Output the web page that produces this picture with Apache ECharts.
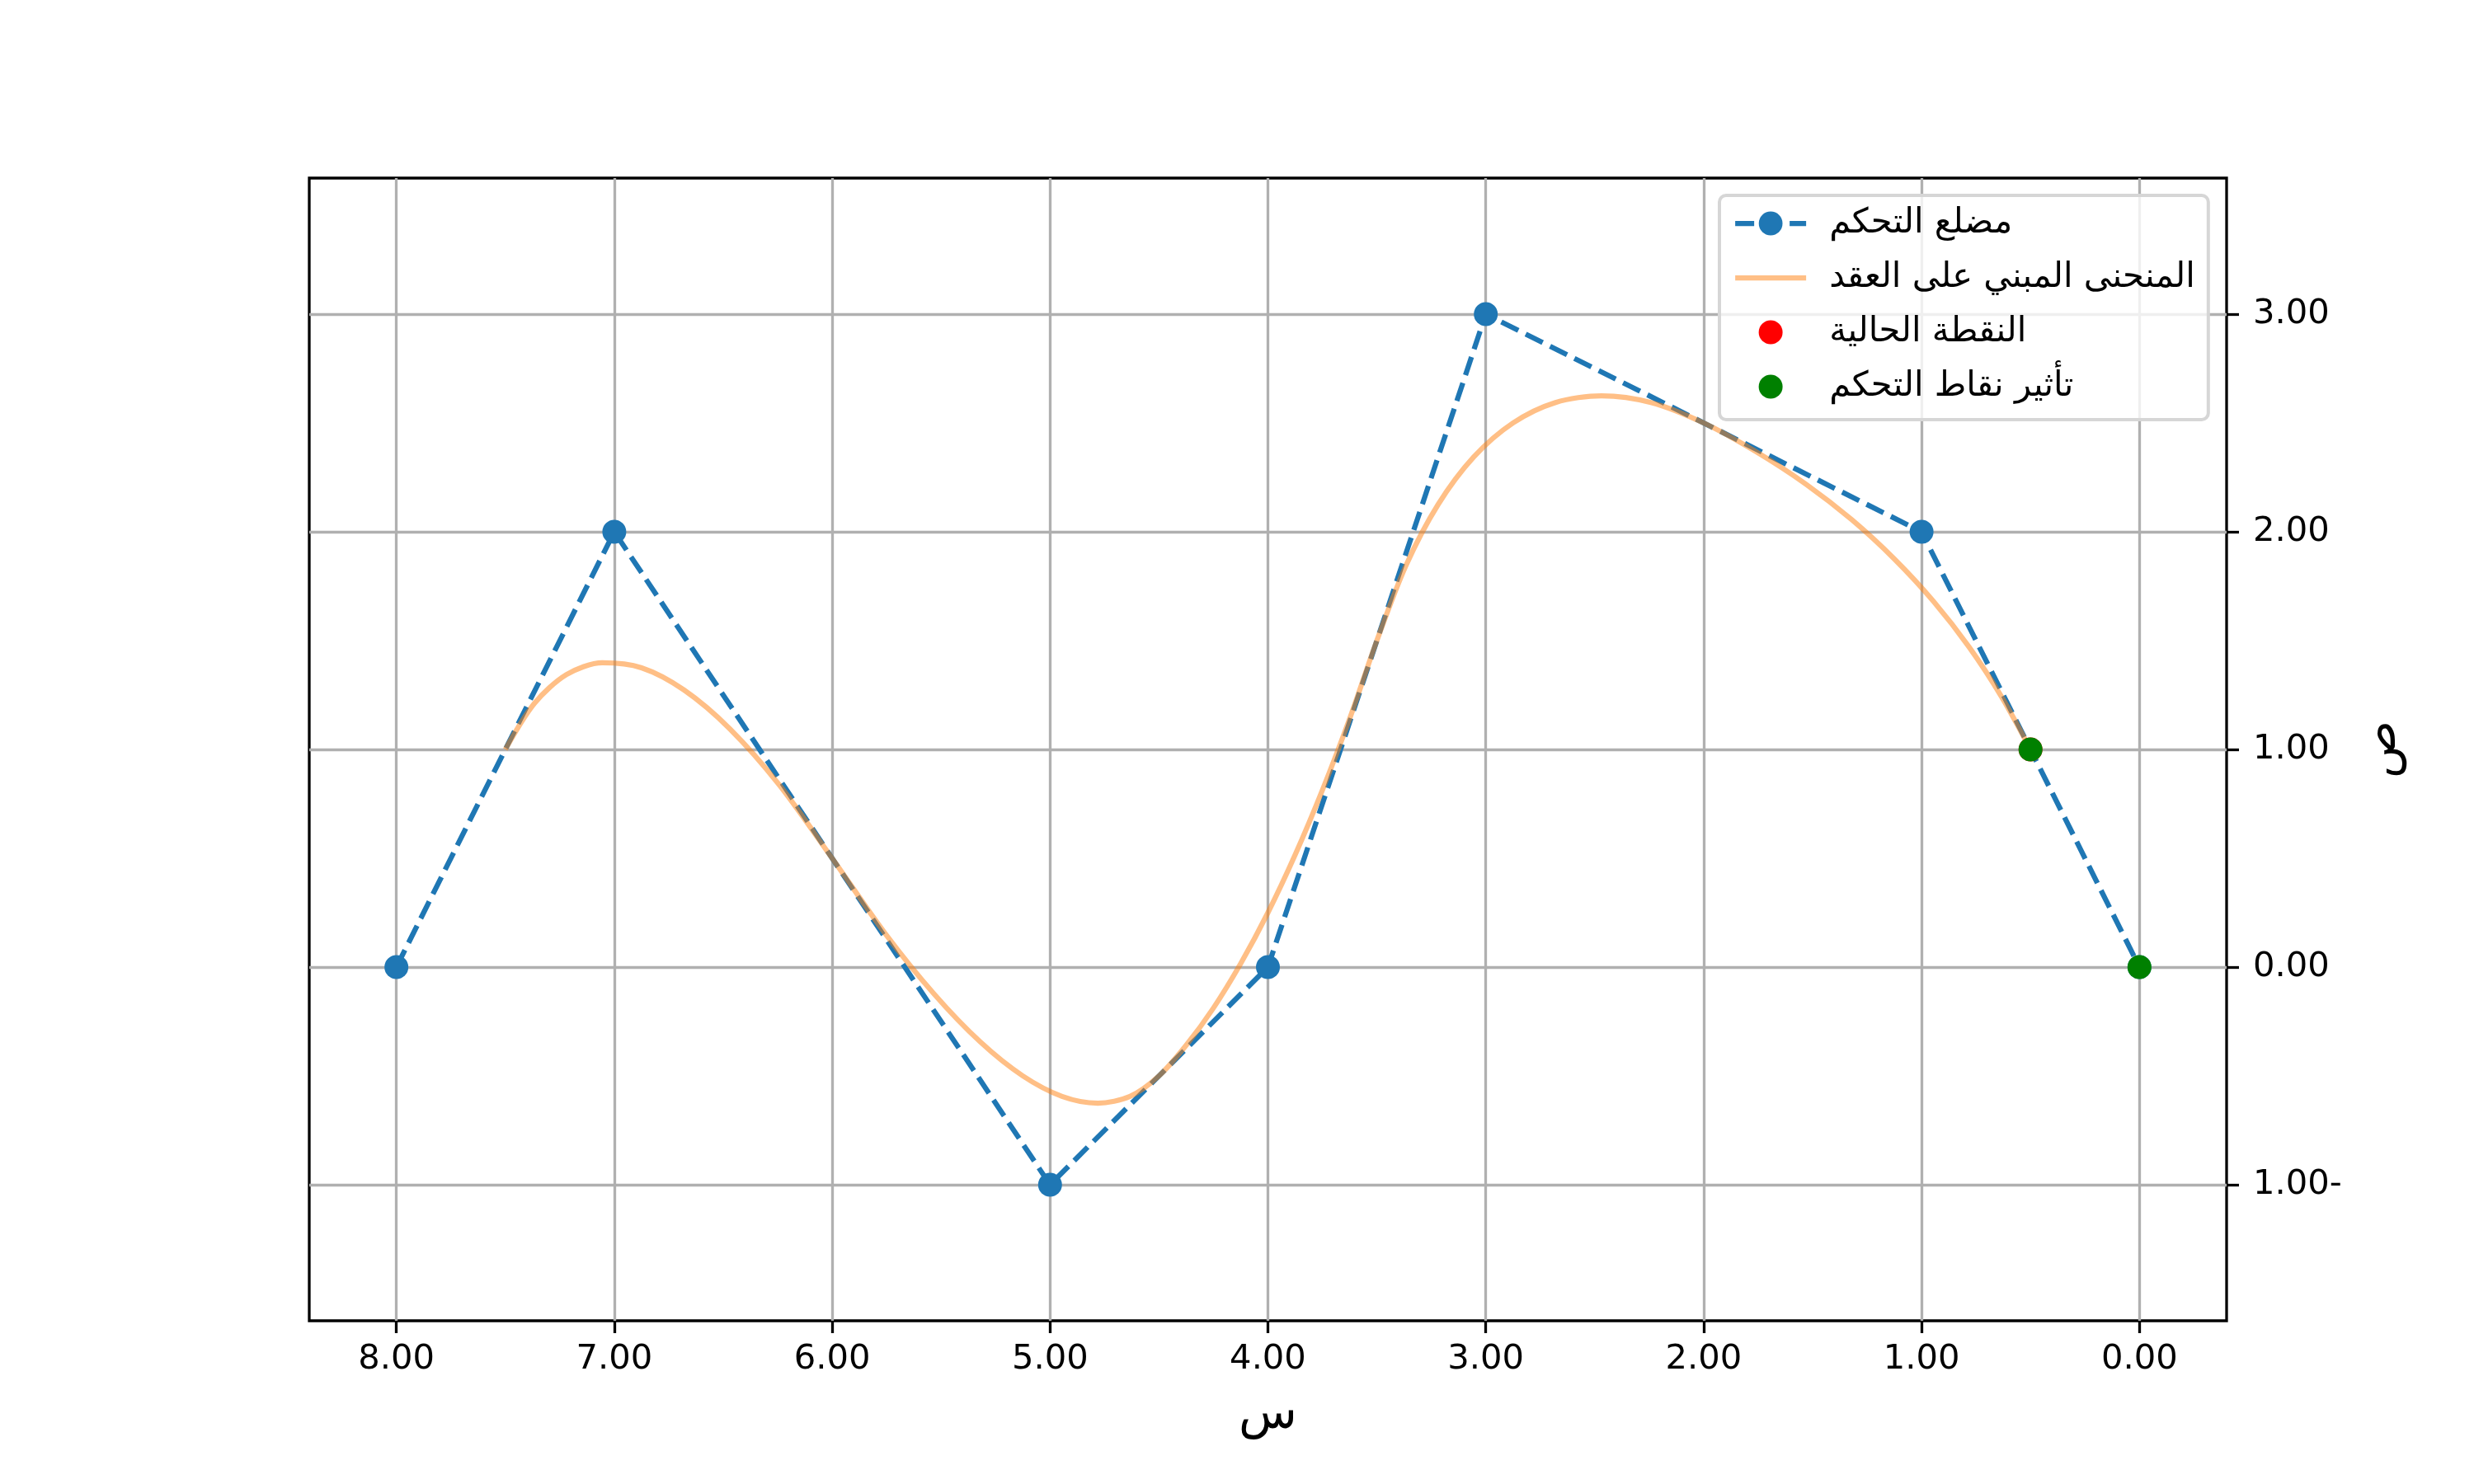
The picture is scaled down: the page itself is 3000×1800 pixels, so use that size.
<!DOCTYPE html>
<html>
<head>
<meta charset="utf-8">
<script src="https://cdn.jsdelivr.net/npm/echarts@6/dist/echarts.min.js"></script>
<style>html,body{margin:0;padding:0;background:#fff;}#c{width:3000px;height:1800px;}</style>
</head>
<body>
<div id="c"></div>
<script>
// Control polygon
const ctrlX = [8, 7, 5, 4, 3, 1, 0];
const ctrlY = [0, 2, -1, 0, 3, 2, 0];
// Knot-based curve
const curveX = [7.5, 7.367, 7.219, 7.055, 6.875, 6.680, 6.469, 6.242,
  6.0, 5.758, 5.531, 5.320, 5.125, 4.945, 4.781, 4.633,
  4.5, 4.375, 4.25, 4.125, 4.0, 3.875, 3.75, 3.625,
  3.5, 3.367, 3.219, 3.055, 2.875, 2.680, 2.469, 2.242,
  2.0, 1.758, 1.531, 1.320, 1.125, 0.945, 0.781, 0.633, 0.5];
const curveY = [1.0, 1.211, 1.344, 1.398, 1.375, 1.273, 1.094, 0.836,
  0.5, 0.156, -0.125, -0.344, -0.5, -0.594, -0.625, -0.594,
  -0.5, -0.359, -0.188, 0.016, 0.25, 0.516, 0.813, 1.141,
  1.5, 1.844, 2.125, 2.344, 2.5, 2.594, 2.625, 2.594,
  2.5, 2.367, 2.219, 2.055, 1.875, 1.680, 1.469, 1.242, 1.0];
// Current point
const currentX = [0.5];
const currentY = [1];
// Influence of control points
const influenceX = [0.5, 0];
const influenceY = [1, 0];
// Ticks
const xTicks = [0, 1, 2, 3, 4, 5, 6, 7, 8];
const yTicks = [-1, 0, 1, 2, 3];
const seriesNames = ['مضلع التحكم', 'المنحنى المبني على العقد', 'النقطة الحالية', 'تأثير نقاط التحكم'];
const xLabelName = 'س';
const yLabelName = 'ص';

const zip = (a, b) => a.map((v, i) => [v, b[i]]);
const FONT = 'DejaVu Sans';
const fmtNum = v => (v < 0 ? Math.abs(v).toFixed(2) + '-' : v.toFixed(2));
// circle of diameter 29 inside a 36x36 box (legend dot icon)
const dotIcon = 'path://M0,0M36,36M32.5,18A14.5,14.5,0,1,1,3.5,18A14.5,14.5,0,1,1,32.5,18Z';

const chart = echarts.init(document.getElementById('c'), null, {renderer: 'canvas'});
chart.setOption({
  animation: false,
  backgroundColor: '#ffffff',
  grid: {
    left: 375, right: 300, top: 216, bottom: 198,
    show: true, borderColor: '#000', borderWidth: 3.3, backgroundColor: 'transparent'
  },
  xAxis: {
    type: 'value', inverse: true, min: -0.4, max: 8.4,
    name: xLabelName, nameLocation: 'middle', nameGap: 86,
    nameTextStyle: {fontFamily: FONT, fontSize: 58, color: '#000'},
    axisLine: {show: false, onZero: false},
    axisTick: {show: true, inside: false, length: 15, customValues: xTicks, lineStyle: {color: '#000', width: 3.3}},
    axisLabel: {customValues: xTicks, margin: 26, fontFamily: FONT, fontSize: 41.67, color: '#000', formatter: fmtNum},
    splitLine: {show: true, lineStyle: {color: '#b0b0b0', width: 3.3}}
  },
  yAxis: {
    type: 'value', position: 'right', min: -1.625, max: 3.625,
    name: yLabelName, nameLocation: 'middle', nameGap: 160, nameRotate: 90,
    nameTextStyle: {fontFamily: FONT, fontSize: 58, color: '#000'},
    axisLine: {show: false, onZero: false},
    axisTick: {show: true, inside: false, length: 15, customValues: yTicks, lineStyle: {color: '#000', width: 3.3}},
    axisLabel: {customValues: yTicks, margin: 32, fontFamily: FONT, fontSize: 41.67, color: '#000', formatter: fmtNum},
    splitLine: {show: true, lineStyle: {color: '#b0b0b0', width: 3.3}}
  },
  legend: {
    orient: 'vertical', left: 2085, top: 237,
    padding: [10, 16, 16, 16],
    itemWidth: 86, itemHeight: 36, itemGap: 18,
    backgroundColor: 'rgba(255,255,255,0.8)',
    borderColor: '#d6d6d6', borderWidth: 4, borderRadius: 8,
    textStyle: {fontFamily: FONT, fontSize: 41.67, color: '#000', lineHeight: 48, padding: [0, 0, 0, 23]},
    data: [
      {name: seriesNames[0], lineStyle: {width: 6.25, type: [23, 10], color: '#1f77b4'}, itemStyle: {color: '#1f77b4', opacity: 1}},
      {name: seriesNames[1], lineStyle: {width: 6.25, type: 'solid', color: 'rgba(255,127,14,0.5)'}, itemStyle: {opacity: 0}},
      {name: seriesNames[2], icon: dotIcon, itemStyle: {color: '#ff0000', opacity: 1}},
      {name: seriesNames[3], icon: dotIcon, itemStyle: {color: '#008000', opacity: 1}}
    ]
  },
  series: [
    {
      name: seriesNames[0], type: 'line', data: zip(ctrlX, ctrlY),
      symbol: 'circle', symbolSize: 29, showSymbol: true,
      itemStyle: {color: '#1f77b4', opacity: 1},
      lineStyle: {color: '#1f77b4', width: 6.25, type: [23, 10]},
      z: 2
    },
    {
      name: seriesNames[1], type: 'line', data: zip(curveX, curveY),
      symbol: 'none', smooth: 0.3,
      itemStyle: {color: 'rgba(255,127,14,0.5)'},
      lineStyle: {color: 'rgba(255,127,14,0.5)', width: 6.25},
      z: 3
    },
    {
      name: seriesNames[2], type: 'scatter', data: zip(currentX, currentY),
      symbol: 'circle', symbolSize: 29, itemStyle: {color: '#ff0000', opacity: 1}, z: 4
    },
    {
      name: seriesNames[3], type: 'scatter', data: zip(influenceX, influenceY),
      symbol: 'circle', symbolSize: 29, itemStyle: {color: '#008000', opacity: 1}, z: 5
    }
  ]
});
</script>
</body>
</html>
